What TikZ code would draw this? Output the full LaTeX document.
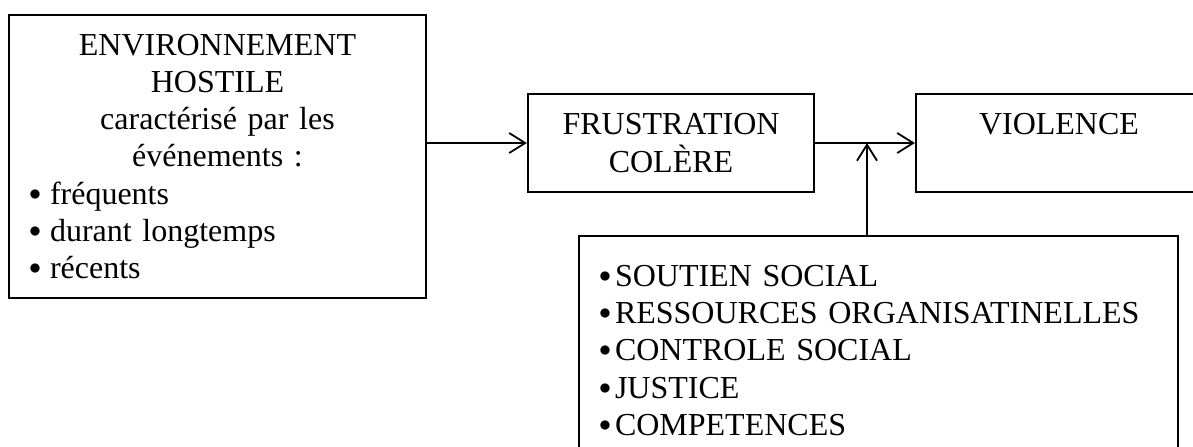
\documentclass[tikz,border=0pt]{standalone}
\usepackage{fontspec}
\setmainfont{Liberation Serif}
\usetikzlibrary{arrows.meta}
\newcommand{\puce}{\raisebox{2pt}{\fontsize{12pt}{12pt}\selectfont$\bullet$}}

\begin{document}
\begin{tikzpicture}[x=0.5pt,y=-0.5pt,
every node/.style={font=\fontsize{16pt}{18.65pt}\selectfont},
box/.style={draw, line width=1.1pt, inner xsep=10pt},
arr/.style={line width=0.9pt, -{Straight Barb[length=8pt,width=10pt,line width=0.9pt]}}]
\useasboundingbox (0,0) rectangle (1193,446);
\clip (0,0) rectangle (1193,446);

% the three boxes of the chain
\node[box, minimum width=208.5pt, minimum height=141.5pt, text width=188.5pt, inner ysep=5pt] (env) at (217.5,156.5)
  {\centering ENVIRONNEMENT\\HOSTILE\\caractérisé par les\\événements :\par
   \raggedright\puce\hspace{4.5pt}fréquents\\\puce\hspace{4.5pt}durant longtemps\\\puce\hspace{4.5pt}récents};
\node[box, minimum width=143pt, minimum height=49pt, align=center] (frus) at (671,143) {FRUSTRATION\\COLÈRE};
\node[box, minimum width=143pt, minimum height=49pt, align=center] (viol) at (1059,143) {VIOLENCE\\\phantom{V}};

% moderating factors
\node[box, anchor=north, minimum width=299.5pt, text width=279.5pt, inner ysep=12pt, align=left] (fact) at (878.5,235)
  {\strut\puce\hspace{2pt}SOUTIEN SOCIAL\\
   \puce\hspace{2pt}RESSOURCES ORGANISATINELLES\\
   \puce\hspace{2pt}CONTROLE SOCIAL\\
   \puce\hspace{2pt}JUSTICE\\
   \puce\hspace{2pt}COMPETENCES};

\coordinate (junc) at (867,143);
\draw[arr] (env.east |- frus) -- (frus);
\draw[arr] (frus) -- (viol);
\draw[arr] (fact.north -| junc) -- (junc);
\end{tikzpicture}
\end{document}
